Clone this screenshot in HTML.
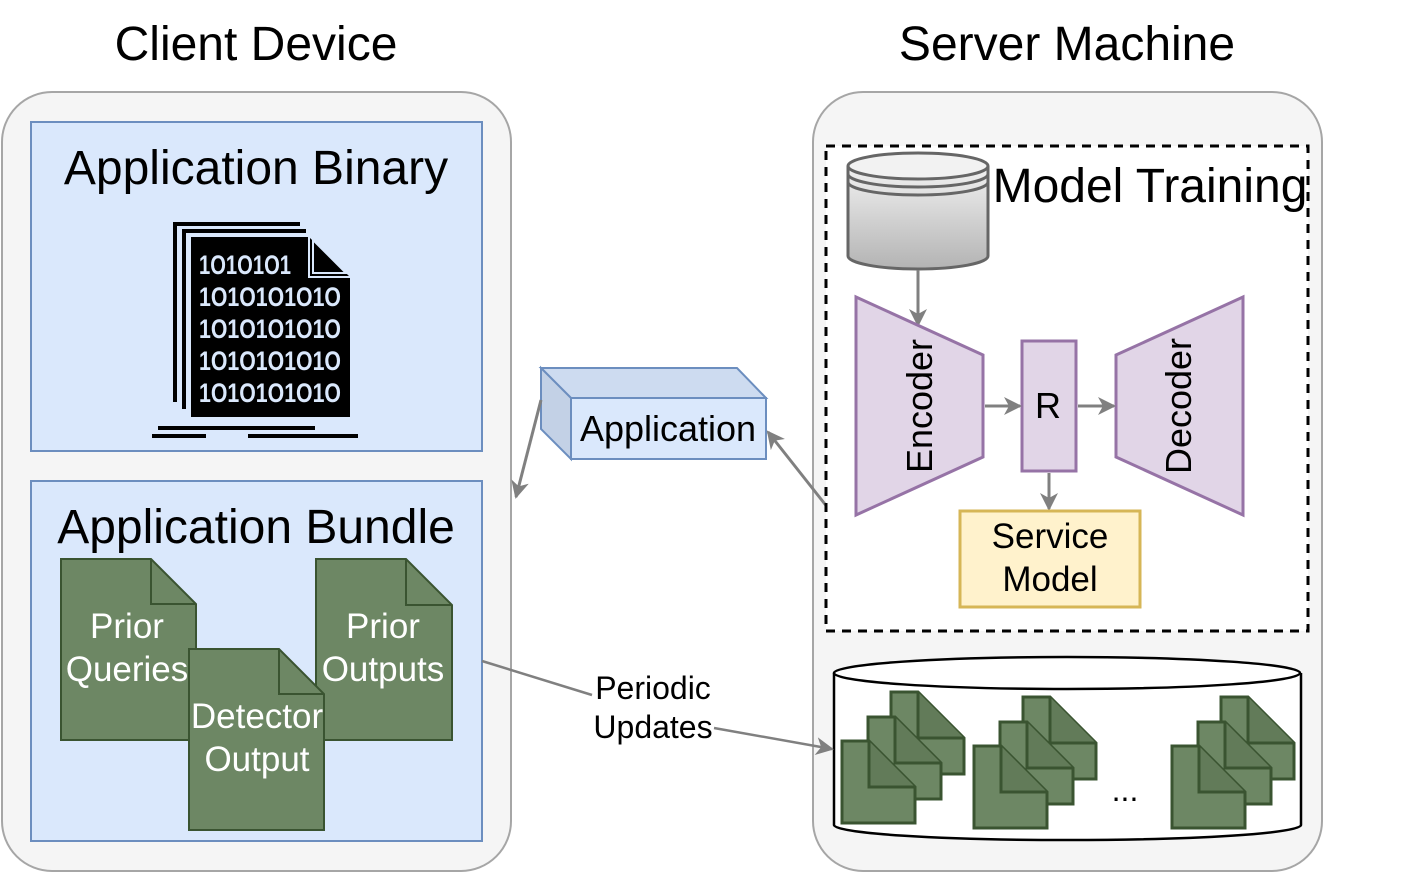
<!DOCTYPE html>
<html><head><meta charset="utf-8"><style>
html,body{margin:0;padding:0;background:#fff;}
svg{display:block;font-family:"Liberation Sans",Arial,sans-serif;}
</style></head><body>
<svg width="1410" height="873" viewBox="0 0 1410 873" xmlns="http://www.w3.org/2000/svg">
<defs>
<linearGradient id="cg" x1="0" y1="0" x2="0" y2="1"><stop offset="0" stop-color="#f2f2f2"/><stop offset="1" stop-color="#b3b3b3"/></linearGradient>
<marker id="ah" markerWidth="20" markerHeight="20" refX="16" refY="9" orient="auto" markerUnits="userSpaceOnUse"><path d="M0,0 L18,9 L0,18 L5,9 Z" fill="#808080"/></marker>
<g id="doc"><path d="M0,0 H27 L73,46 V82 H0 Z" fill="#6d8764" stroke="#3a5431" stroke-width="3"/><path d="M27,0 V46 H73" fill="#627b59" stroke="#3a5431" stroke-width="3"/></g>
<g id="stack"><use href="#doc" x="49" y="-49"/><use href="#doc" x="26" y="-24"/><use href="#doc" x="0" y="0"/></g>
</defs>
<text x="256" y="60" font-size="48" text-anchor="middle">Client Device</text>
<text x="1067" y="60" font-size="48" text-anchor="middle">Server Machine</text>
<rect x="2" y="92" width="509" height="779" rx="50" fill="#f5f5f5" stroke="#a6a6a6" stroke-width="2"/>
<rect x="813" y="92" width="509" height="779" rx="50" fill="#f5f5f5" stroke="#a6a6a6" stroke-width="2"/>
<rect x="31" y="122" width="451" height="329" fill="#dae8fc" stroke="#6c8ebf" stroke-width="2"/>
<text x="256" y="184" font-size="48" text-anchor="middle">Application Binary</text>
<g>
<rect x="173" y="222" width="4" height="180" fill="#000"/><rect x="173" y="222" width="127" height="4" fill="#000"/>
<rect x="182" y="229" width="4" height="180" fill="#000"/><rect x="182" y="229" width="124" height="4" fill="#000"/>
<path d="M191,237 H309 L350,277 V417 H191 Z" fill="#000"/>
<path d="M313,240 L346,273 H313 Z" fill="#000" stroke="#dae8fc" stroke-width="2"/>
<path d="M309,237 V277 H350" fill="none" stroke="#dae8fc" stroke-width="2"/>
<g fill="#dae8fc" font-size="27" font-weight="bold">
<text x="199" y="274" textLength="92" lengthAdjust="spacingAndGlyphs">1O1O1O1</text>
<text x="199" y="306" textLength="142" lengthAdjust="spacingAndGlyphs">1O1O1O1O1O</text>
<text x="199" y="338" textLength="142" lengthAdjust="spacingAndGlyphs">1O1O1O1O1O</text>
<text x="199" y="370" textLength="142" lengthAdjust="spacingAndGlyphs">1O1O1O1O1O</text>
<text x="199" y="402" textLength="142" lengthAdjust="spacingAndGlyphs">1O1O1O1O1O</text>
</g>
<rect x="158" y="426" width="157" height="4" fill="#000"/>
<rect x="152" y="434" width="54" height="4" fill="#000"/><rect x="248" y="434" width="110" height="4" fill="#000"/>
</g>
<rect x="31" y="481" width="451" height="360" fill="#dae8fc" stroke="#6c8ebf" stroke-width="2"/>
<text x="256" y="543" font-size="48" text-anchor="middle">Application Bundle</text>
<path d="M61,559 H151 L196,604 V740 H61 Z" fill="#6d8764" stroke="#3a5431" stroke-width="2"/><path d="M151,559 V604 H196" fill="none" stroke="#3a5431" stroke-width="2"/>
<path d="M316,559 H406 L452,605 V740 H316 Z" fill="#6d8764" stroke="#3a5431" stroke-width="2"/><path d="M406,559 V605 H452" fill="none" stroke="#3a5431" stroke-width="2"/>
<text fill="#fff" font-size="35" text-anchor="middle"><tspan x="127" y="638">Prior</tspan><tspan x="127" y="681">Queries</tspan></text>
<text fill="#fff" font-size="35" text-anchor="middle"><tspan x="383" y="638">Prior</tspan><tspan x="383" y="681">Outputs</tspan></text>
<path d="M189,649 H279 L324,694 V830 H189 Z" fill="#6d8764" stroke="#3a5431" stroke-width="2"/><path d="M279,649 V694 H324" fill="none" stroke="#3a5431" stroke-width="2"/>
<text fill="#fff" font-size="35" text-anchor="middle"><tspan x="257" y="728">Detector</tspan><tspan x="257" y="771">Output</tspan></text>
<path d="M541,368 H737 L766,398 H571 Z" fill="#cddbf0" stroke="#6c8ebf" stroke-width="2"/>
<path d="M541,368 L571,398 V459 L541,429 Z" fill="#c3d1e6" stroke="#6c8ebf" stroke-width="2"/>
<rect x="571" y="398" width="195" height="61" fill="#dae8fc" stroke="#6c8ebf" stroke-width="2"/>
<text x="668" y="441" font-size="36" text-anchor="middle">Application</text>
<line x1="541" y1="400" x2="516" y2="497" stroke="#808080" stroke-width="3" marker-end="url(#ah)"/>
<line x1="828" y1="508" x2="768" y2="432" stroke="#808080" stroke-width="3" marker-end="url(#ah)"/>
<rect x="826" y="146" width="482" height="485" fill="#fff" stroke="#000" stroke-width="3" stroke-dasharray="9,7"/>
<text x="1150" y="202" font-size="48" text-anchor="middle">Model Training</text>
<path d="M848,166 V256 A70,13 0 0 0 988,256 V166" fill="url(#cg)" stroke="#666" stroke-width="3"/>
<ellipse cx="918" cy="166" rx="70" ry="13" fill="#f2f2f2" stroke="#666" stroke-width="3"/>
<path d="M848,174 A70,13 0 0 0 988,174 M848,182 A70,13 0 0 0 988,182" fill="none" stroke="#666" stroke-width="3"/>
<line x1="918" y1="270" x2="918" y2="325" stroke="#808080" stroke-width="3" marker-end="url(#ah)"/>
<path d="M856,297 L983,355 V457 L856,515 Z" fill="#e1d5e7" stroke="#9673a6" stroke-width="3"/>
<text transform="translate(932,406) rotate(-90)" font-size="36" text-anchor="middle">Encoder</text>
<rect x="1022" y="341" width="54" height="130" fill="#e1d5e7" stroke="#9673a6" stroke-width="3"/>
<text x="1048" y="418" font-size="36" text-anchor="middle">R</text>
<path d="M1243,297 L1116,355 V457 L1243,515 Z" fill="#e1d5e7" stroke="#9673a6" stroke-width="3"/>
<text transform="translate(1191,406) rotate(-90)" font-size="36" text-anchor="middle">Decoder</text>
<line x1="985" y1="406" x2="1020" y2="406" stroke="#808080" stroke-width="3" marker-end="url(#ah)"/>
<line x1="1078" y1="406" x2="1114" y2="406" stroke="#808080" stroke-width="3" marker-end="url(#ah)"/>
<line x1="1049" y1="473" x2="1049" y2="509" stroke="#808080" stroke-width="3" marker-end="url(#ah)"/>
<rect x="960" y="511" width="180" height="96" fill="#fff2cc" stroke="#d6b656" stroke-width="3"/>
<text font-size="35" text-anchor="middle"><tspan x="1050" y="548">Service</tspan><tspan x="1050" y="591">Model</tspan></text>
<path d="M834,673 V825 A233,15 0 0 0 1301,825 V673" fill="#fff" stroke="#000" stroke-width="2.5"/>
<ellipse cx="1067" cy="673" rx="233" ry="16" fill="#fff" stroke="#000" stroke-width="2.5"/>
<use href="#stack" x="842" y="741"/>
<use href="#stack" x="974" y="746"/>
<use href="#stack" x="1172" y="746"/>
<text x="1125" y="801" font-size="32" text-anchor="middle">...</text>
<line x1="482" y1="661" x2="592" y2="695" stroke="#808080" stroke-width="2.5"/>
<line x1="714" y1="728" x2="832" y2="749" stroke="#808080" stroke-width="2.5" marker-end="url(#ah)"/>
<text font-size="32" text-anchor="middle"><tspan x="653" y="699">Periodic</tspan><tspan x="653" y="738">Updates</tspan></text>
</svg>
</body></html>
